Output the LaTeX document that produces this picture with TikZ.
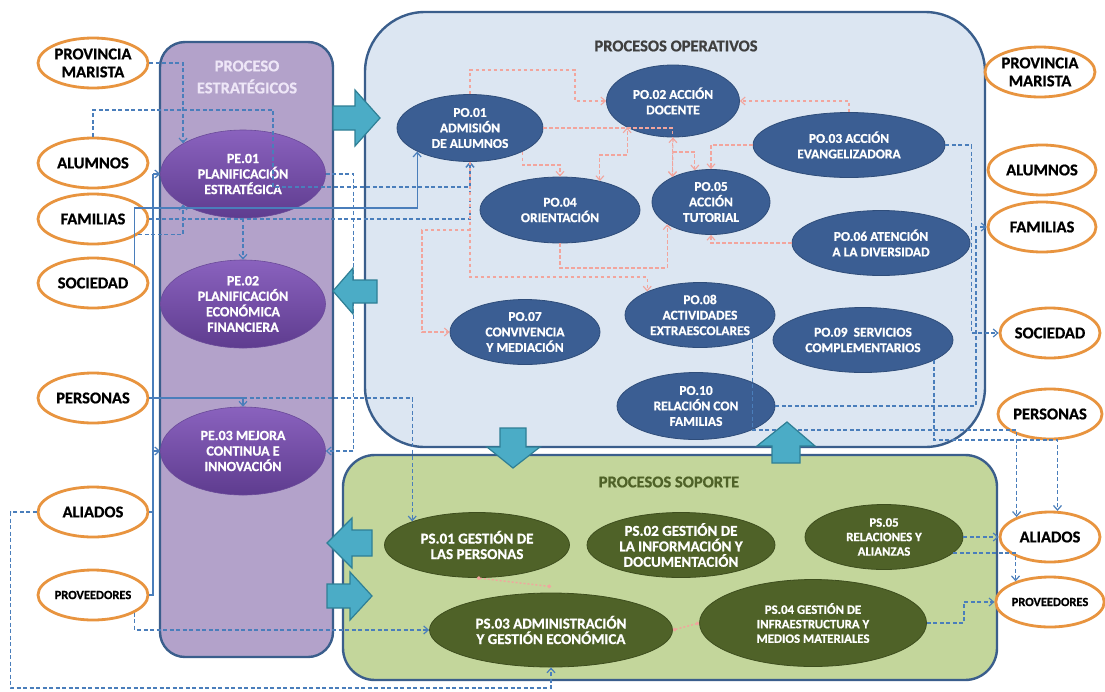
\documentclass[tikz,border=0pt]{standalone}
\usepackage{fontspec}
\setmainfont{Carlito}[BoldFeatures={FakeBold=0.8}]
\usetikzlibrary{shapes.geometric,arrows.meta}
\definecolor{boxline}{HTML}{3A5E8C}
\definecolor{strfill}{HTML}{B3A2CA}
\definecolor{opfill}{HTML}{DCE6F2}
\definecolor{spfill}{HTML}{C3D69B}
\definecolor{stkline}{HTML}{E8943F}
\definecolor{petop}{HTML}{8A62BE}
\definecolor{pebot}{HTML}{5E3C8F}
\definecolor{peline}{HTML}{6A4A99}
\definecolor{pofill}{HTML}{3B5E93}
\definecolor{poline}{HTML}{2F4D7A}
\definecolor{psfill}{HTML}{4F6228}
\definecolor{psline}{HTML}{3E4E1E}
\definecolor{tealf}{HTML}{4BACC6}
\definecolor{teall}{HTML}{2F7F95}
\definecolor{cblue}{HTML}{4A7EBB}
\definecolor{cpink}{HTML}{F2A59D}
\definecolor{tgray}{HTML}{3F3F3F}
\definecolor{tgreen}{HTML}{4F6228}
\definecolor{tlav}{HTML}{EEE6F7}
\begin{document}
\begin{tikzpicture}[x=1pt,y=-1pt,>={Straight Barb[length=4.5pt,width=8pt]},
  stk/.style={ellipse,draw=stkline,line width=2.8pt,fill=white,inner sep=0pt,align=center,text=black,
    font={\fontsize{16.5}{18}\selectfont\bfseries},minimum width=110pt,minimum height=50pt},
  stks/.style={stk,font={\fontsize{12.5}{14}\selectfont\bfseries}},
  pe/.style={ellipse,draw=peline,line width=0.6pt,top color=petop,bottom color=pebot,text=white,inner sep=0pt,
    align=center,font={\fontsize{14}{15.5}\selectfont\bfseries},minimum width=165pt,minimum height=88pt},
  po/.style={ellipse,draw=poline,line width=0.8pt,fill=pofill,text=white,inner sep=0pt,align=center,
    font={\fontsize{13.5}{15.5}\selectfont\bfseries},minimum height=65pt},
  ps/.style={ellipse,draw=psline,line width=0.8pt,fill=psfill,text=white,inner sep=0pt,align=center,
    font={\fontsize{15}{15.5}\selectfont\bfseries},minimum height=65pt},
  pss/.style={ps,font={\fontsize{12.8}{14.5}\selectfont\bfseries}},
  procbox/.style={draw=boxline,line width=2.4pt},
  blk/.style={fill=tealf,draw=teall,line width=1.2pt,line join=miter},
  ttl/.style={font={\fontsize{16.5}{22}\selectfont\bfseries},align=center},
  bd/.style={draw=cblue,line width=1.2pt,dash pattern=on 4pt off 2.5pt,->},
  bs/.style={draw=cblue,line width=1.2pt},
  pd/.style={draw=cpink,line width=1.1pt,dash pattern=on 3.5pt off 2.5pt,->},
  pdd/.style={draw=cpink,line width=1.4pt,dash pattern=on 2pt off 2pt,{Circle[length=3.5pt]}-{Circle[length=3.5pt]}}
]
\useasboundingbox (0,0) rectangle (1105,691);
\fill[white] (0,0) rectangle (1105,691);

% process boxes
\draw[procbox,fill=strfill,rounded corners=25pt] (160,42) rectangle (333,657);
\draw[procbox,fill=opfill,rounded corners=60pt] (365,12) rectangle (985,447);
\draw[procbox,fill=spfill,rounded corners=32pt] (343,455) rectangle (997,680);

% titles
\node[ttl,text=tlav] (tstr) at (247,77) {PROCESO\\ESTRATÉGICOS};
\node[ttl,text=tgray] (topr) at (676,46) {PROCESOS OPERATIVOS};
\node[ttl,text=tgreen] (tsop) at (669,482) {PROCESOS SOPORTE};

% stakeholders left
\node[stk] (lpm) at (93,63) {PROVINCIA\\MARISTA};
\node[stk] (lal) at (93,163) {ALUMNOS};
\node[stk] (lfa) at (93,219) {FAMILIAS};
\node[stk] (lso) at (93,283) {SOCIEDAD};
\node[stk] (lpe) at (93,398) {PERSONAS};
\node[stk] (lai) at (93,512) {ALIADOS};
\node[stks] (lpr) at (93,595) {PROVEEDORES};
% stakeholders right
\node[stk] (rpm) at (1040,72) {PROVINCIA\\MARISTA};
\node[stk,minimum width=108pt] (ral) at (1042,170) {ALUMNOS};
\node[stk,minimum width=108pt] (rfa) at (1042,227) {FAMILIAS};
\node[stk,minimum width=100pt] (rso) at (1050,333) {SOCIEDAD};
\node[stk,minimum width=100pt] (rpe) at (1050,414) {PERSONAS};
\node[stk,minimum width=100pt] (rai) at (1050,537) {ALIADOS};
\node[stks,minimum width=100pt] (rpr) at (1050,602) {PROVEEDORES};

% strategic
\node[pe] (pe1) at (243,174) {PE.01\\PLANIFICACIÓN\\ESTRATÉGICA};
\node[pe] (pe2) at (243,304) {PE.02\\PLANIFICACIÓN\\ECONÓMICA\\FINANCIERA};
\node[pe] (pe3) at (243,451) {PE.03 MEJORA\\CONTINUA E\\INNOVACIÓN};

% operational
\node[po,minimum width=146pt,minimum height=67pt] (po1) at (470,128) {PO.01\\ADMISIÓN\\DE ALUMNOS};
\node[po,minimum width=133pt,minimum height=72pt] (po2) at (673,101) {PO.02 ACCIÓN\\DOCENTE};
\node[po,minimum width=192pt] (po3) at (849,145) {PO.03 ACCIÓN\\EVANGELIZADORA};
\node[po,minimum width=160pt,minimum height=66pt] (po4) at (560,210) {PO.04\\ORIENTACIÓN};
\node[po,minimum width=118pt] (po5) at (711,202) {PO.05\\ACCIÓN\\TUTORIAL};
\node[po,minimum width=178pt] (po6) at (881,243) {PO.06 ATENCIÓN\\A LA DIVERSIDAD};
\node[po,minimum width=150pt] (po7) at (525,332) {PO.07\\CONVIVENCIA\\Y MEDIACIÓN};
\node[po,minimum width=150pt] (po8) at (700,315) {PO.08\\ACTIVIDADES\\EXTRAESCOLARES};
\node[po,minimum width=180pt] (po9) at (863,340) {PO.09\ \ SERVICIOS\\COMPLEMENTARIOS};
\node[po,minimum width=158pt,minimum height=67pt] (po10) at (696,406) {PO.10\\RELACIÓN CON\\FAMILIAS};

% support
\node[ps,minimum width=185pt] (ps1) at (477,545) {PS.01 GESTIÓN DE\\LAS PERSONAS};
\node[ps,minimum width=188pt] (ps2) at (681,545) {PS.02 GESTIÓN DE\\LA INFORMACIÓN Y\\DOCUMENTACIÓN};
\node[ps,minimum width=243pt,minimum height=74pt] (ps3) at (551,630) {PS.03 ADMINISTRACIÓN\\Y GESTIÓN ECONÓMICA};
\node[pss,minimum width=158pt] (ps5) at (884,537) {PS.05\\RELACIONES Y\\ALIANZAS};
\node[pss,minimum width=227pt,minimum height=87pt] (ps4) at (813,623) {PS.04 GESTIÓN DE\\INFRAESTRUCTURA Y\\MEDIOS MATERIALES};

% ---- blue connectors, left side
\draw[bd] (lpm.east) -| (pe1.153);
\draw[bd] (lal.north) |- (273,110) |- (po1.south |- 0,187) -- (po1.south);
\draw[bd] (lfa.east) -| (po1.south);
\draw[bs,->] (lso.23) |- (po1.204 |- 0,208) -- (po1.204);
\draw[bd] (lfa.341) -| (pe1.207);
\coordinate (busT) at (153,174);
\draw[bs] (lpr.east) -| (busT);
\draw[bs,->] (busT) -- (pe1.west);
\draw[bs] (lai.east) -- (lai.east -| busT);
\draw[bs,->] (pe3.west -| busT) -- (pe3.west);
\draw[bs,->] (lpe.east) -| (pe3.north);
\draw[bd] (pe3.north |- lpe.east) -| (ps1.160);
\draw[bd] (pe1.east) -- ++(28,0) |- (pe3.east);
\draw[bd] (pe1.south) -- (pe2.north);
\draw[bd] (lpr.337) |- (ps3.west);
\draw[bd] (lai.west) -- ++(-26,0) |- (ps3.south |- 0,688) -- (ps3.south);

% ---- blue connectors, right side
\draw[bd] (po3.east) -- ++(26,0) |- (rso.west);
\draw[bd] (po10.east) -| (976,0 |- rfa.west) -- (rfa.west);
\draw[bd] (po8.336) |- (rai.149 |- 0,430) -- (rai.149);
\draw[bd] (po9.344) |- (rai.74 |- 0,440) -- (rai.74);
\draw[bd] (ps5.east) -- (rai.west);
\draw[bd] (ps5.347) -| (rpr.149);
\draw[bd] (ps4.east) -- ++(37,0) |- (rpr.west);

% ---- pink connectors, operational
\draw[pd] (po1.north) |- (575,70) |- (po2.west);
\draw[pd] (po1.east) -| (po5.147);
\draw[pd,<->] (po2.south) -- (po5.147);
\draw[pd] (po2.south |- 0,152) -| (po5.117);
\draw[pd,<->] (po4.36) |- (po2.210 |- 0,155) -- (po2.210);
\draw[pd] (po1.336) |- (po4.north |- 0,165) -- (po4.north);
\draw[pd] (po3.north) |- (po2.east);
\draw[pd] (po3.west) -| (po5.north);
\draw[pd] (po6.west) -| (po5.south);
\draw[pd] (po4.south) |- (po5.207 |- 0,268) -- (po5.207);
\draw[pd] (po1.south) |- (po8.156 |- 0,277) -- (po8.156);
\draw[pd] (po1.south |- 0,230) -| (po7.west -| 422,0) -- (po7.west);

% ---- pink connectors, support
\draw[pdd] (ps1.south) -- ([yshift=6pt]ps3.north);
\draw[pdd] (ps3.east) -- (ps4.west);

% ---- block arrows
\draw[blk] (333,106) -- (355,106) -- (355,90) -- (380,118) -- (355,146) -- (355,130) -- (333,130) -- cycle;
\draw[blk] (377,280) -- (353,280) -- (353,268) -- (333,291) -- (353,314) -- (353,303) -- (377,303) -- cycle;
\draw[blk] (500,428) -- (526,428) -- (526,447) -- (540,447) -- (513,468) -- (487,447) -- (500,447) -- cycle;
\draw[blk] (772,463) -- (800,463) -- (800,446) -- (815,446) -- (787,422) -- (757,446) -- (772,446) -- cycle;
\draw[blk] (372,530) -- (352,530) -- (352,518) -- (327,543) -- (352,568) -- (352,556) -- (372,556) -- cycle;
\draw[blk] (327,584) -- (350,584) -- (350,572) -- (372,596) -- (350,620) -- (350,608) -- (327,608) -- cycle;
\end{tikzpicture}
\end{document}
